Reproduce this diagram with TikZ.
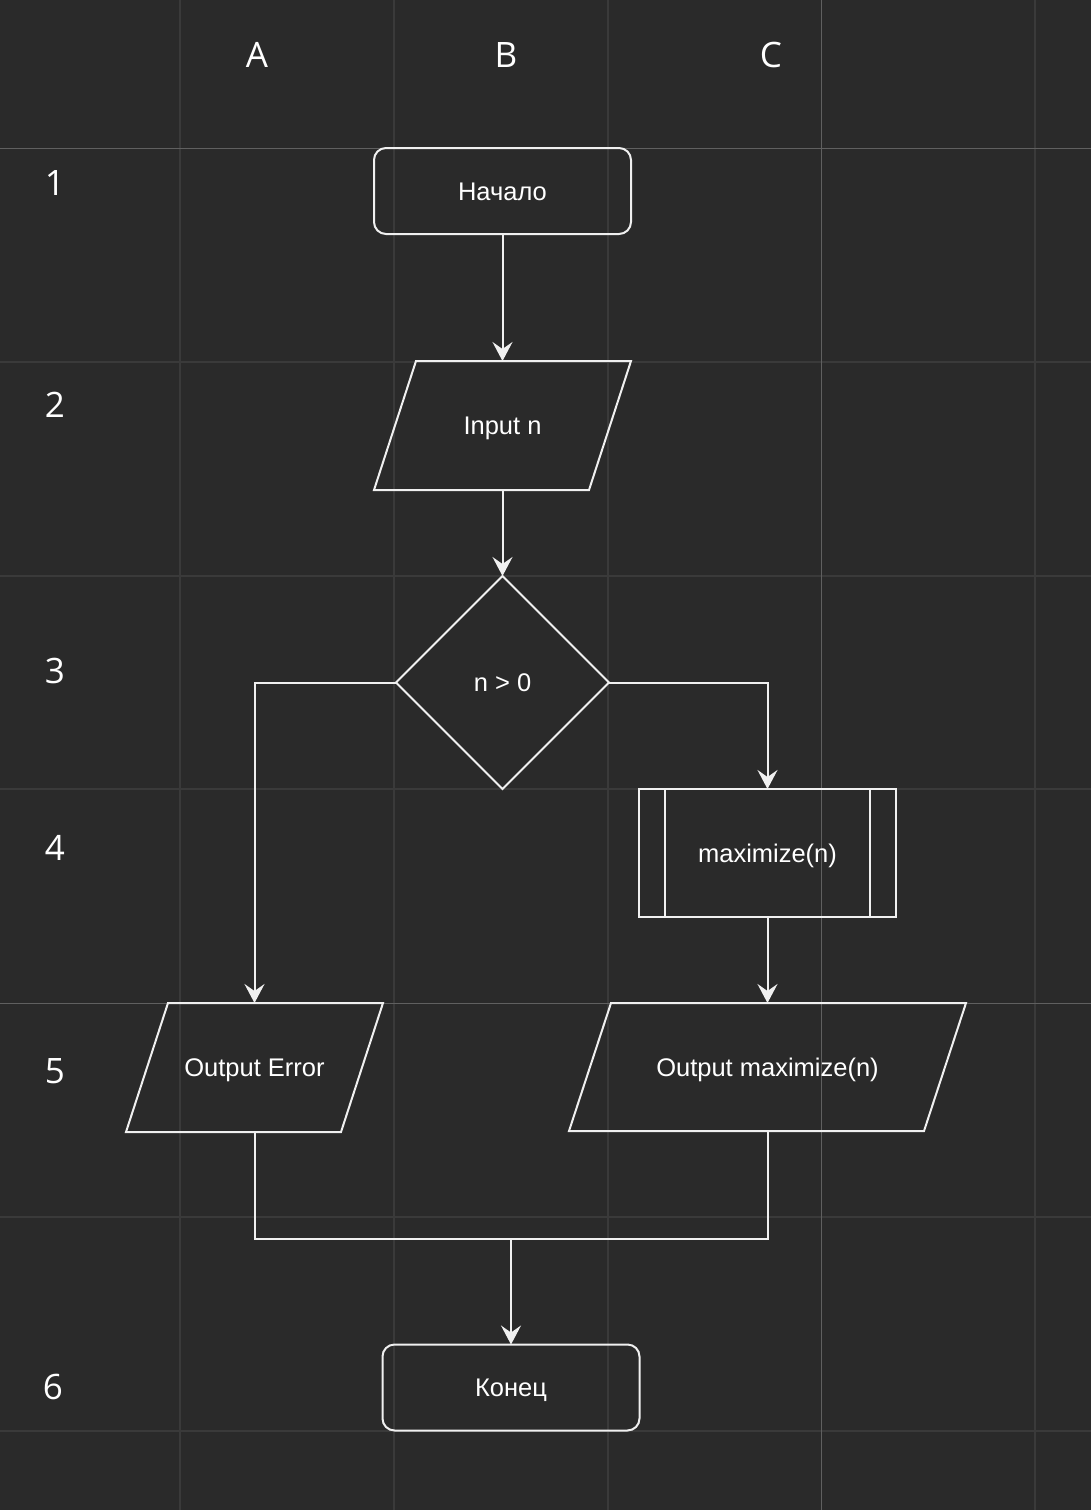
\documentclass[tikz,border=0pt]{standalone}
\usepackage{fontspec}
\setmainfont{Liberation Sans}
\newfontfamily\gridfont{Open Sans}
\usetikzlibrary{shapes.geometric,arrows.meta}
\definecolor{bgdark}{HTML}{2A2A2A}
\definecolor{gridfaint}{HTML}{3A3A3A}
\definecolor{gridlight}{HTML}{606060}
\definecolor{strokewhite}{HTML}{F0F0F0}
\tikzset{
  block/.style={draw=strokewhite, line width=2pt, text=white, font=\fontsize{25.5}{30}\selectfont, text height=18.5pt, text depth=0pt, inner sep=0pt, outer sep=0pt},
  terminal/.style={block, rounded corners=12pt, minimum width=257pt, minimum height=86pt},
  io/.style={block, draw=none, minimum height=129pt},
  decision/.style={block, diamond, minimum width=213pt, minimum height=213pt, aspect=1},
  subproc/.style={block, minimum width=257pt, minimum height=128pt},
  flow/.style={draw=strokewhite, line width=2pt, -{Stealth[length=19pt,width=20pt,inset=7pt]}},
  joinline/.style={draw=strokewhite, line width=2pt},
  gridlabel/.style={text=white, font=\gridfont\fontsize{35}{40}\selectfont},
}
% slanted outline round an io node
\def\ioslant(#1){\draw[strokewhite, line width=2pt] ([xshift=42pt]#1.north west) -- (#1.north east) -- ([xshift=-42pt]#1.south east) -- (#1.south west) -- cycle;}

\begin{document}
\begin{tikzpicture}[x=1pt, y=-1pt]
			%%%%% START %%%%%
			
			\fill[bgdark] (0, 0) rectangle (1091, 1510);
			\useasboundingbox (0, 0) rectangle (1091, 1510);
			
			\foreach \gx in {180, 394, 608, 1035}
				\draw[gridfaint, line width=1.5pt] (\gx, 0) -- (\gx, 1510);
			\foreach \gy in {362, 576, 789, 1217, 1431}
				\draw[gridfaint, line width=1.5pt] (0, \gy) -- (1091, \gy);
			\draw[gridlight, line width=1pt] (821, 0) -- (821, 1510);
			\draw[gridlight, line width=1pt] (0, 148) -- (1091, 148);
			\draw[gridlight, line width=1pt] (0, 1003) -- (1091, 1003);
			
			\node[gridlabel] (colA) at (257, 55) {A};
			\node[gridlabel] (colB) at (506, 55) {B};
			\node[gridlabel] (colC) at (771, 55) {C};
			
			\node[gridlabel] (row1) at (55, 183) {1};
			\node[gridlabel] (row2) at (55, 405) {2};
			\node[gridlabel] (row3) at (55, 671) {3};
			\node[gridlabel] (row4) at (55, 848) {4};
			\node[gridlabel] (row5) at (55, 1071) {5};
			\node[gridlabel] (row6) at (53, 1387) {6};
			
			\node[terminal] (start) at (502.5, 191) {Начало};
			\node[io, minimum width=257pt] (input) at (502.5, 425.5) {Input n};
			\ioslant(input)
			\node[decision] (check) at (502.5, 682.5) {n > 0};
			\node[subproc] (maxim) at (767.5, 853) {maximize(n)};
			\draw[strokewhite, line width=2pt] ([xshift=26pt]maxim.north west) -- ([xshift=26pt]maxim.south west);
			\draw[strokewhite, line width=2pt] ([xshift=-26pt]maxim.north east) -- ([xshift=-26pt]maxim.south east);
			\node[io, minimum width=257pt] (outerr) at (254.5, 1067.5) {Output Error};
			\ioslant(outerr)
			\node[io, minimum width=397pt, minimum height=128pt] (outmax) at (767.5, 1067) {Output maximize(n)};
			\ioslant(outmax)
			\node[terminal] (finish) at (511, 1387.5) {Конец};
			
			\coordinate (join) at (511, 1239);
			
			\draw[flow] (start) -- (input);
			\draw[flow] (input) -- (check);
			\draw[flow] (check.west) -| (outerr.north);
			\draw[flow] (check.east) -| (maxim.north);
			\draw[flow] (maxim) -- (outmax);
			\draw[joinline] (outerr.south) |- (join);
			\draw[joinline] (outmax.south) |- (join);
			\draw[flow] (join) -- (finish);
			
			%%%%% END %%%%%
\end{tikzpicture}
\end{document}
